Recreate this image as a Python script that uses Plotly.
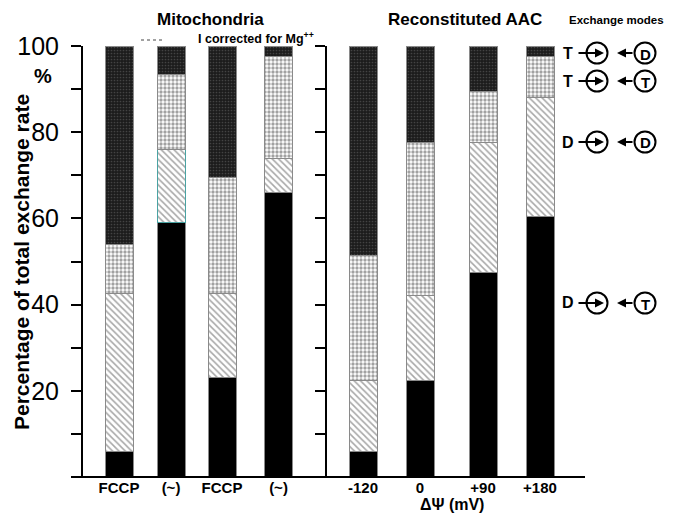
import plotly.graph_objects as go

# ---------------- data ----------------
bar_labels = ["FCCP", "(~)", "FCCP", "(~)", "-120", "0", "+90", "+180"]
group = ["mito", "mito", "mito", "mito", "recon", "recon", "recon", "recon"]
# exchange-mode shares (%) of each bar, bottom to top
d_t = [6, 59, 23, 66, 6, 22.5, 47.5, 60.5]      # D -> <- T (solid black)
d_d = [36.5, 17, 19.5, 8, 16.5, 19.5, 30, 27.5]  # D -> <- D (hatched)
t_t = [11.5, 17.5, 27, 23.5, 29, 35.5, 12, 9.5]  # T -> <- T (checker)
t_d = [46, 6.5, 30.5, 2.5, 48.5, 22.5, 10.5, 2.5]  # T -> <- D (dark)
y_ticks = [0, 10, 20, 30, 40, 50, 60, 70, 80, 90, 100]
y_tick_text = ["", "", "20", "", "40", "", "60", "", "80", "", "100"]

# ---------------- layout helpers ----------------
# the page body has an 8px margin, so the figure is 8px smaller than the window
W, H = 665, 505
PL, PR, PT, PB = 83, 673, 46, 477      # plot area in window pixels
L, T = PL - 8, PT - 8
B = H - (PB - 8)
PW, PH = PR - PL, PB - PT
bar_x = [119, 171, 222, 278.5, 363, 420, 483, 540]   # bar centres (x axis in px units)
BAR_W = 28
FONT = "Arial, Liberation Sans, sans-serif"


def px(x):
    return (x - PL) / PW


def py(y):
    return (PB - y) / PH


fig = go.Figure()

styles = [
    ("D-T", d_t, dict(color="black")),
    ("D-D", d_d, dict(color="white", pattern=dict(shape="\\", fgcolor="#505050", bgcolor="white", size=4.5, solidity=0.35))),
    ("T-T", t_t, dict(color="white", pattern=dict(shape=".", fgcolor="#444444", bgcolor="white", size=4, solidity=0.55))),
    ("T-D", t_d, dict(color="#222", pattern=dict(shape=".", fgcolor="#6a6a6a", bgcolor="#1c1c1c", size=3, solidity=0.25))),
]

for g, yax in (("mito", "y"), ("recon", "y2")):
    idx = [i for i, gg in enumerate(group) if gg == g]
    for name, vals, mk in styles:
        m = dict(mk)
        lc = ["#8a8a8a"] * len(idx)
        if name == "D-D" and g == "mito":
            lc[1] = "#4aa3a3"
        m["line"] = dict(color=lc, width=1)
        fig.add_trace(go.Bar(
            x=[bar_x[i] for i in idx], y=[vals[i] for i in idx],
            width=BAR_W, marker=m, name=name, yaxis=yax,
            showlegend=False, hoverinfo="skip"))

fig.update_layout(
    width=W, height=H, barmode="stack",
    margin=dict(l=L, r=0, t=T, b=B, autoexpand=False),
    paper_bgcolor="white", plot_bgcolor="white",
    font=dict(family=FONT, color="black"),
    xaxis=dict(range=[PL, PR], showgrid=False, zeroline=False, showline=False,
               tickvals=bar_x, ticktext=["<b>%s</b>" % s for s in bar_labels],
               tickfont=dict(size=15, family=FONT), ticks="", automargin=False),
    yaxis=dict(range=[0, 100], showgrid=False, zeroline=False, showline=True,
               linecolor="black", linewidth=2, ticks="outside", ticklen=10,
               tickwidth=2, tickcolor="black", tickvals=y_ticks, ticktext=y_tick_text,
               tickfont=dict(size=25, family=FONT), ticklabelstandoff=7, automargin=False),
    yaxis2=dict(range=[0, 100], overlaying="y", anchor="free", position=px(326),
                side="left", showgrid=False, zeroline=False, showline=True,
                linecolor="black", linewidth=2, ticks="outside", ticklen=10,
                tickwidth=2, tickcolor="black", tickvals=y_ticks[1:],
                showticklabels=False, automargin=False),
)

shapes = [
    dict(type="line", xref="paper", yref="paper", x0=px(73), x1=px(585), y0=0, y1=0,
         line=dict(color="black", width=2)),
    dict(type="line", xref="paper", yref="paper", x0=px(141), x1=px(162), y0=py(40), y1=py(40),
         line=dict(color="#444", width=1, dash="dot")),
]

ann = []


def text(x, y, s, size, bold=True, xanchor="center", **kw):
    ann.append(dict(x=px(x), y=py(y), xref="paper", yref="paper",
                    text=("<b>%s</b>" % s) if bold else s,
                    xanchor=xanchor, yanchor="middle",
                    showarrow=False, font=dict(size=size, family=FONT, color="black"), **kw))


text(210, 20, "Mitochondria", 17)
text(465, 20, "Reconstituted AAC", 17)
text(616, 20, "Exchange modes", 11.5)
text(196, 38, "I corrected for Mg<sup>++</sup>", 12.5, xanchor="left")
text(43, 76, "%", 20)
text(21, 262, "Percentage of total exchange rate", 21, textangle=-90)
text(452, 504, "ΔΨ (mV)", 16)

# exchange-mode legend drawings
modes = [("T", "D", 53), ("T", "T", 81), ("D", "D", 142), ("D", "T", 303)]
R = 10.5
for left, right, yy in modes:
    c1, c2 = 597, 645
    text(568, yy, left, 16)
    shapes.append(dict(type="circle", xref="paper", yref="paper",
                       x0=px(c1 - R), x1=px(c1 + R), y0=py(yy + R), y1=py(yy - R),
                       line=dict(color="black", width=2)))
    shapes.append(dict(type="circle", xref="paper", yref="paper",
                       x0=px(c2 - R), x1=px(c2 + R), y0=py(yy + R), y1=py(yy - R),
                       line=dict(color="black", width=2)))
    text(c2 + 0.5, yy + 1, right, 15)
    ann.append(dict(x=px(604), y=py(yy), xref="paper", yref="paper", ax=-27, ay=0,
                    text="", showarrow=True, arrowhead=2, arrowsize=1, arrowwidth=1.8,
                    arrowcolor="black"))
    ann.append(dict(x=px(617), y=py(yy), xref="paper", yref="paper", ax=17, ay=0,
                    text="", showarrow=True, arrowhead=2, arrowsize=1, arrowwidth=1.8,
                    arrowcolor="black"))

fig.update_layout(shapes=shapes, annotations=ann)
fig.write_html("out.html")
